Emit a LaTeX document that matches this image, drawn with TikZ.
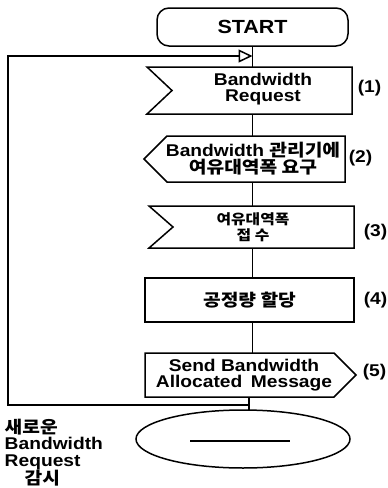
\documentclass[tikz,border=0pt]{standalone}
\usepackage{fontspec}
\setmainfont{Liberation Sans}[FakeStretch=1.13]
\newfontfamily\kr{Noto Sans CJK KR}[FakeStretch=1.13]
\usetikzlibrary{arrows.meta,shapes.geometric}
\begin{document}
\begin{tikzpicture}[x=1pt,y=-1pt, line width=1.5pt, line join=miter,
  txt/.style={font=\bfseries\fontsize{17}{16}\selectfont, align=center, inner sep=0pt},
  lbl/.style={font=\bfseries\fontsize{17}{17}\selectfont, inner sep=0pt, anchor=west},
  boxline/.style={draw, line width=1.5pt}]
\useasboundingbox (0,0) rectangle (388,488);
% START
\node[draw, rounded corners=12pt, minimum width=191pt, minimum height=38pt, inner sep=0pt,
  font=\bfseries\fontsize{19}{19}\selectfont] (start) at (252.5,27) {START};
% box 1
\draw[boxline] (147,67) -- (352,67) -- (352,114) -- (147,114) -- (172,90.5) -- cycle;
\coordinate (b1n) at (252.5,67); \coordinate (b1s) at (252.5,114);
\node[txt] (t1) at (263,89) {Bandwidth\\Request};
\node[lbl] (l1) at (357,88) {(1)};
% box 2
\draw[boxline] (144,159) -- (167,136) -- (345,136) -- (345,182) -- (167,182) -- cycle;
\coordinate (b2n) at (252.5,136); \coordinate (b2s) at (252.5,182);
\node[txt] (t2) at (253,159) {Bandwidth {\kr 관리기에}\\{\kr 여유대역폭 요구}};
\node[lbl] (l2) at (348,158) {(2)};
% box 3
\draw[boxline] (149,206) -- (354,206) -- (354,248) -- (149,248) -- (173,227) -- cycle;
\coordinate (b3n) at (252.5,206); \coordinate (b3s) at (252.5,248);
\node[txt, font=\kr\bfseries\fontsize{14}{16}\selectfont] (t3) at (253,227) {여유대역폭\\접 수};
\node[lbl] (l3) at (363,232) {(3)};
% box 4
\node[draw, minimum width=209pt, minimum height=44pt, inner sep=0pt,
  font=\kr\bfseries\fontsize{17}{17}\selectfont] (b4) at (249.5,300) {공정량 할당};
\node[lbl] (l4) at (363,300) {(4)};
\coordinate (b4n) at (252.5,278); \coordinate (b4s) at (252.5,322);
% box 5
\draw[boxline] (145,353) -- (334,353) -- (356,375) -- (334,397) -- (145,397) -- cycle;
\coordinate (b5n) at (252.5,353); \coordinate (b5s) at (249,397);
\node[txt] (t5) at (244,375) {Send Bandwidth\\Allocated\hspace{0.5em}Message};
\node[lbl] (l5) at (362,372) {(5)};
% end ellipse
\node[draw, ellipse, minimum width=214pt, minimum height=58pt, inner sep=0pt] (ell) at (243,439) {};
\coordinate (eln) at (249,410);
\draw (190,441) -- (290,441);
% connectors
\draw (start.south) -- (b1n);
\draw (b1s) -- (b2n);
\draw (b2s) -- (b3n);
\draw (b3s) -- (b4n);
\draw (b4s) -- (b5n);
\draw (b5s) -- (eln);
% loop back
\coordinate (lp) at (249,405);
\coordinate (lc1) at (8,405);
\coordinate (lc2) at (8,56);
\coordinate (ah) at (252.5,56);
\draw[-{Triangle[open,length=14pt,width=13pt]}] (lp) -- (lc1) -- (lc2) -- (ah);
% side text
\node[font=\bfseries\fontsize{17}{16.5}\selectfont, align=left, inner sep=0pt, anchor=north west]
  (side) at (4,418) {{\kr 새로운}\\Bandwidth\\Request\\\hspace{20pt}{\kr 감시}};
\end{tikzpicture}
\end{document}
